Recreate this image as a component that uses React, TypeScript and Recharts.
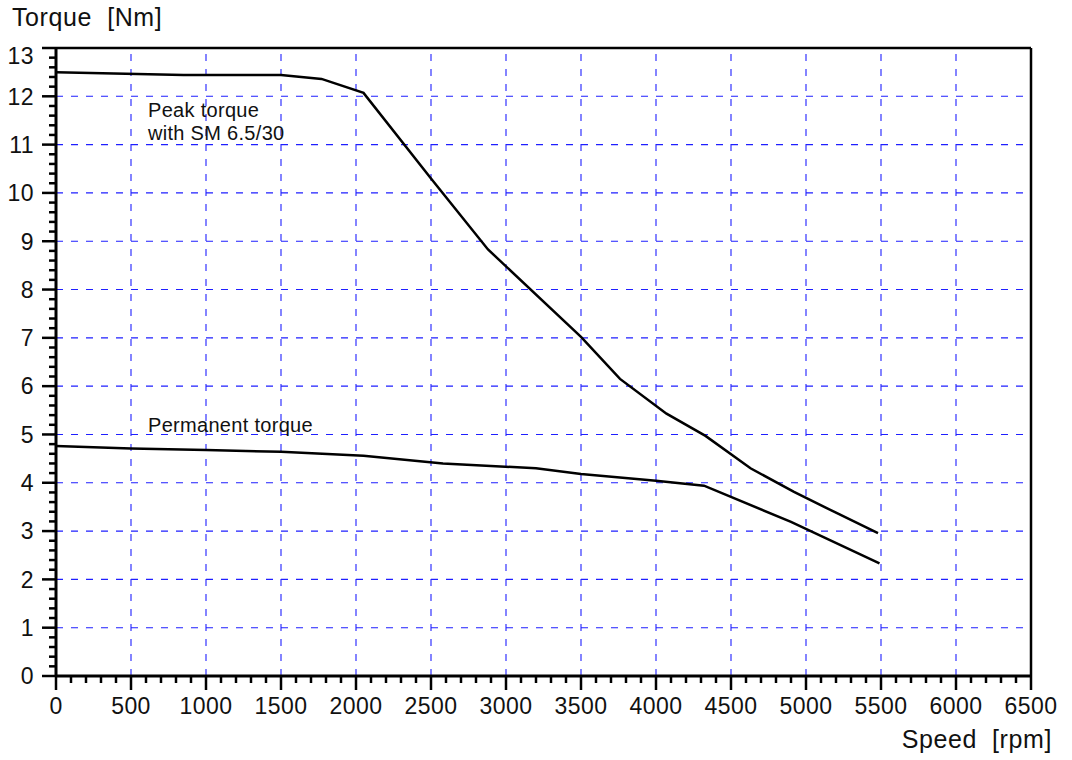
import React from 'react';
import { LineChart, Line, XAxis, YAxis, ReferenceLine } from 'recharts';

// Peak torque with SM 6.5/30 [rpm, Nm]
const peakSpeed = [0, 850, 1500, 1770, 2050, 2500, 2880, 3500, 3760, 4070, 4330, 4630, 4920, 5200, 5480];
const peakTorque = [12.5, 12.44, 12.44, 12.36, 12.07, 10.3, 8.83, 7.02, 6.15, 5.43, 4.97, 4.3, 3.81, 3.38, 2.96];

// Permanent torque
const permSpeed = [0, 500, 1000, 1500, 2050, 2580, 3200, 3500, 4000, 4320, 4900, 5490];
const permTorque = [4.76, 4.71, 4.68, 4.64, 4.56, 4.4, 4.3, 4.18, 4.04, 3.94, 3.19, 2.33];

const speedMajor = [0, 500, 1000, 1500, 2000, 2500, 3000, 3500, 4000, 4500, 5000, 5500, 6000, 6500];
const torqueMajor = [0, 1, 2, 3, 4, 5, 6, 7, 8, 9, 10, 11, 12, 13];

// minor ticks: every 100 rpm, every 0.2 Nm
const speedTicks = Array.from({ length: 66 }, (_, i) => i * 100);
const torqueTicks = Array.from({ length: 66 }, (_, i) => Math.round(i * 2) / 10);

const peakData = peakSpeed.map((s, i) => ({ speed: s, torque: peakTorque[i] }));
const permData = permSpeed.map((s, i) => ({ speed: s, torque: permTorque[i] }));

const FONT = '"Liberation Sans", Arial, Helvetica, sans-serif';
const GRID = '#1f1fff';
const TICK = 14;
const MINOR = 7;
const XMARGIN = 7;
const YMARGIN = 8;

const isMajor = (v: number, step: number) => Math.abs(v / step - Math.round(v / step)) < 1e-6;

const XTick = (props: any) => {
  const { x, y, payload } = props;
  const v = payload.value;
  const major = isMajor(v, 500);
  const axisY = y - TICK - XMARGIN;
  return (
    <g>
      <line x1={x} x2={x} y1={axisY} y2={axisY + (major ? TICK : MINOR)} stroke="#000" strokeWidth={2.5} />
      {major && (
        <text x={x} y={y} dy="0.72em" textAnchor="middle" fontSize={23} letterSpacing={0.4} fill="#111" fontFamily={FONT}>
          {v}
        </text>
      )}
    </g>
  );
};

const YTick = (props: any) => {
  const { x, y, payload } = props;
  const v = payload.value;
  const major = isMajor(v, 1);
  const axisX = x + TICK + YMARGIN;
  return (
    <g>
      <line x1={axisX - (major ? TICK : MINOR)} x2={axisX} y1={y} y2={y} stroke="#000" strokeWidth={2.5} />
      {major && (
        <text x={x} y={y} dy={v === 13 ? '0.68em' : '0.36em'} textAnchor="end" fontSize={23} letterSpacing={0.4} fill="#111" fontFamily={FONT}>
          {v}
        </text>
      )}
    </g>
  );
};

export default function App() {
  return (
    <div style={{ position: 'absolute', left: 0, top: 0, width: 1072, height: 760, background: '#fff' }}>
      <LineChart width={1072} height={760} margin={{ top: 48, right: 41, left: 0, bottom: 44 }}>
        <XAxis
          type="number"
          dataKey="speed"
          domain={[0, 6500]}
          ticks={speedTicks}
          interval={0}
          height={40}
          tickSize={TICK}
          tickMargin={XMARGIN}
          tickLine={false}
          tick={<XTick />}
          axisLine={{ stroke: '#000', strokeWidth: 3 }}
          allowDataOverflow
        />
        <YAxis
          type="number"
          dataKey="torque"
          domain={[0, 13]}
          ticks={torqueTicks}
          interval={0}
          width={56}
          tickSize={TICK}
          tickMargin={YMARGIN}
          tickLine={false}
          tick={<YTick />}
          axisLine={{ stroke: '#000', strokeWidth: 3 }}
          allowDataOverflow
        />
        {speedMajor.slice(1, -1).map((s) => (
          <ReferenceLine key={'vx' + s} x={s} stroke={GRID} strokeWidth={1.1} strokeDasharray="7 8" />
        ))}
        {torqueMajor.slice(1, -1).map((t) => (
          <ReferenceLine key={'hy' + t} y={t} stroke={GRID} strokeWidth={1.1} strokeDasharray="7 8" />
        ))}
        <ReferenceLine y={13} stroke="#000" strokeWidth={2.5} />
        <ReferenceLine x={6500} stroke="#000" strokeWidth={2.5} />
        <Line
          data={peakData}
          dataKey="torque"
          type="linear"
          stroke="#000"
          strokeWidth={2.5}
          dot={false}
          isAnimationActive={false}
        />
        <Line
          data={permData}
          dataKey="torque"
          type="linear"
          stroke="#000"
          strokeWidth={2.5}
          dot={false}
          isAnimationActive={false}
        />
      </LineChart>
      <svg width={1072} height={760} style={{ position: 'absolute', left: 0, top: 0, pointerEvents: 'none' }}>
        <g fontFamily={FONT} fill="#111">
          <text x={12} y={26} fontSize={25} letterSpacing={0.6} style={{ whiteSpace: 'pre' }}>Torque  [Nm]</text>
          <text x={1052} y={748} fontSize={25} letterSpacing={0.6} textAnchor="end" style={{ whiteSpace: 'pre' }}>Speed  [rpm]</text>
          <text x={148} y={117} fontSize={20} letterSpacing={0.3}>Peak torque</text>
          <text x={148} y={140} fontSize={20} letterSpacing={0.3}>with SM 6.5/30</text>
          <text x={148} y={432} fontSize={20} letterSpacing={0.3}>Permanent torque</text>
        </g>
      </svg>
    </div>
  );
}
